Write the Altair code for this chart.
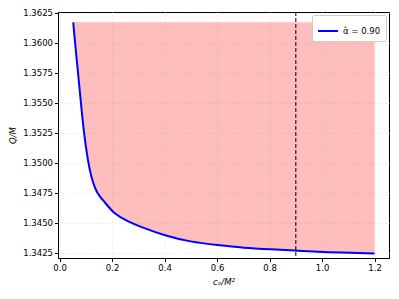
import altair as alt
import pandas as pd

# Data
c_vals = [0.052, 0.0608, 0.0711, 0.0813, 0.0925, 0.109, 0.1205, 0.1395, 0.1737, 0.205,
          0.262, 0.307, 0.402, 0.497, 0.604, 0.699, 0.807, 0.908, 1.010, 1.200]
q_vals = [1.36172, 1.35957, 1.35734, 1.35500, 1.35250, 1.35000, 1.34884, 1.34750,
          1.34668, 1.34578, 1.34507, 1.34466, 1.34390, 1.34340, 1.34312, 1.34290,
          1.34277, 1.34265, 1.34254, 1.34243]
fill_top = 1.36172
vline_x = [0.9]
series_label = "α̂ = 0.90"

x_ticks = [0.0, 0.2, 0.4, 0.6, 0.8, 1.0, 1.2]
y_ticks = [1.3425, 1.3450, 1.3475, 1.3500, 1.3525, 1.3550, 1.3575, 1.3600, 1.3625]
x_domain = [-0.006, 1.255]
y_domain = [1.34205, 1.36258]

df = pd.DataFrame({"c": c_vals, "q": q_vals})
df["top"] = fill_top
df["series"] = series_label
vdf = pd.DataFrame({"c": vline_x})

x_enc = alt.X("c:Q", scale=alt.Scale(domain=x_domain, nice=False, zero=False),
              axis=alt.Axis(values=x_ticks, tickCount=len(x_ticks), format=".1f",
                            title="cₒ/M²"))
y_enc = alt.Y("q:Q", scale=alt.Scale(domain=y_domain, nice=False, zero=False),
              axis=alt.Axis(values=y_ticks, tickCount=len(y_ticks), format=".4f",
                            title="Q/M", labelOverlap=False))

area = alt.Chart(df).mark_area(color="#ff0000", opacity=0.25, interpolate="basis",
                               stroke="#ff0000", strokeOpacity=0.15, strokeWidth=1).encode(
    x=x_enc, y=y_enc, y2="top:Q")

line = alt.Chart(df).mark_line(strokeWidth=2, interpolate="basis").encode(
    x=alt.X("c:Q"), y=alt.Y("q:Q"),
    color=alt.Color("series:N", scale=alt.Scale(range=["#0000ff"]),
                    legend=alt.Legend(title=None, orient="top-right", offset=3,
                                      symbolType="stroke", symbolSize=400,
                                      symbolStrokeWidth=2, labelFontSize=8.5,
                                      labelFont="DejaVu Sans",
                                      fillColor="white", strokeColor="#cccccc",
                                      padding=5, cornerRadius=2)))

vline = alt.Chart(vdf).mark_rule(color="black", strokeDash=[4, 2], strokeWidth=1).encode(
    x=alt.X("c:Q"))

chart = alt.layer(area, line, vline).properties(
    width=331, height=246,
    autosize=alt.AutoSizeParams(type="none"),
    padding={"left": 50, "top": 4, "right": 2, "bottom": 33},
).configure_view(stroke="black", strokeWidth=1).configure_axis(
    labelFont="DejaVu Sans", labelFontSize=8.5, labelColor="black",
    titleFont="DejaVu Sans", titleFontSize=8.5, titleFontStyle="italic",
    titleFontWeight="normal", titleColor="black",
    tickColor="black", tickSize=3.5, domainColor="black",
    grid=True, gridColor="#dddddd", gridDash=[1, 2], gridWidth=0.8,
    labelPadding=2, titlePadding=5,
)

chart.save("out.html", embed_options={"renderer": "svg", "actions": False})
